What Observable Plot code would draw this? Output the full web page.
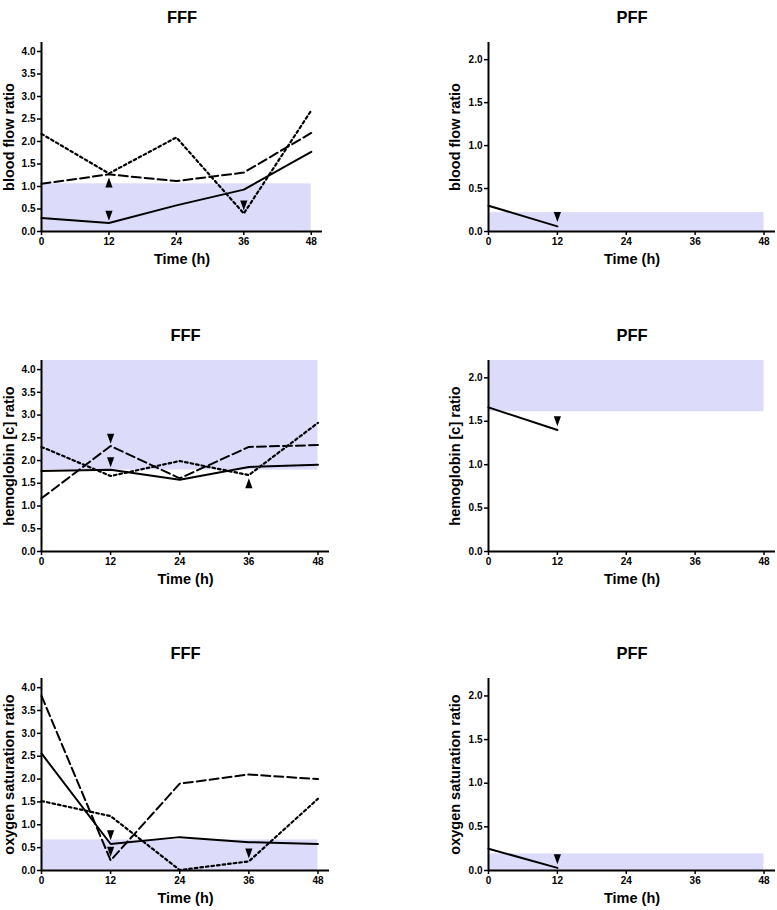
<!DOCTYPE html>
<html>
<head>
<meta charset="utf-8">
<script src="https://cdn.jsdelivr.net/npm/d3@7"></script>
<script src="https://cdn.jsdelivr.net/npm/@observablehq/plot@0.6"></script>
<style>
  html, body { margin: 0; padding: 0; background: #fff; }
  #wrap { position: relative; width: 777px; height: 910px; overflow: hidden; }
  .panel { position: absolute; }
</style>
</head>
<body>
<div id="wrap"></div>
<script>
// ---------- data ----------
const times = [0, 12, 24, 36, 48];
const pffTimes = [0, 12];
const xTicks = [0, 12, 24, 36, 48];
const fffYTicks = [0, 0.5, 1, 1.5, 2, 2.5, 3, 3.5, 4];
const pffYTicks = [0, 0.5, 1, 1.5, 2];

// blood flow ratio
const bloodFFF_solid = [0.30, 0.19, 0.58, 0.93, 1.77];
const bloodFFF_longDash = [1.06, 1.27, 1.12, 1.31, 2.19];
const bloodFFF_shortDash = [2.17, 1.29, 2.09, 0.40, 2.69];
const bloodPFF = [0.30, 0.06];
const bloodFFF_band = [0, 1.06];
const bloodPFF_band = [0, 0.22];
const bloodFFF_marks = [[12, 1.09, "up"], [12, 0.35, "down"], [36, 0.58, "down"]];
const bloodPFF_marks = [[12, 0.17, "down"]];

// hemoglobin [c] ratio
const hbFFF_solid = [1.77, 1.80, 1.58, 1.86, 1.91];
const hbFFF_longDash = [1.17, 2.32, 1.61, 2.30, 2.34];
const hbFFF_shortDash = [2.30, 1.66, 1.99, 1.68, 2.83];
const hbPFF = [1.66, 1.40];
const hbFFF_band = [1.79, 4.2];
const hbPFF_band = [1.61, 2.2];
const hbFFF_marks = [[12, 2.48, "down"], [12, 1.96, "down"], [36, 1.50, "up"]];
const hbPFF_marks = [[12, 1.50, "down"]];

// oxygen saturation ratio
const o2FFF_solid = [2.56, 0.58, 0.73, 0.62, 0.58];
const o2FFF_longDash = [3.82, 0.22, 1.90, 2.10, 2.00];
const o2FFF_shortDash = [1.52, 1.19, 0.01, 0.20, 1.57];
const o2PFF = [0.25, 0.03];
const o2FFF_band = [0, 0.67];
const o2PFF_band = [0, 0.19];
const o2FFF_marks = [[12, 0.77, "down"], [12, 0.41, "down"], [36, 0.37, "down"]];
const o2PFF_marks = [[12, 0.13, "down"]];

// ---------- helpers ----------
const FONT = "'Liberation Sans', Arial, Helvetica, sans-serif";
const upTri = {draw(ctx) { ctx.moveTo(0, -5); ctx.lineTo(3.6, 5); ctx.lineTo(-3.6, 5); ctx.closePath(); }};
const downTri = {draw(ctx) { ctx.moveTo(0, 5); ctx.lineTo(3.6, -5); ctx.lineTo(-3.6, -5); ctx.closePath(); }};
const toRows = (ts, vs) => ts.map((t, i) => ({t, v: vs[i]}));

function panel({title, ylabel, series, band, marks, yMax, yTicks, left, top, width, mLeft, mRight, plotH, labelDx}) {
  const mTop = 42, mBottom = 40;
  const lines = series.map(([ts, vs, dash, sw]) =>
    Plot.line(toRows(ts, vs), {x: "t", y: "v", stroke: "black", strokeWidth: sw, strokeDasharray: dash, strokeLinejoin: "miter"}));
  const markRows = marks.map(([t, v, dir]) => ({t, v, dir}));
  const chart = Plot.plot({
    width, height: mTop + plotH + mBottom,
    marginLeft: mLeft, marginRight: mRight, marginTop: mTop, marginBottom: mBottom,
    style: {fontFamily: FONT, fontSize: "10px", fontWeight: "bold", color: "black", background: "white", overflow: "visible"},
    x: {domain: [0, 50]},
    y: {domain: [0, yMax]},
    marks: [
      Plot.rect([{x1: 0, x2: 48, y1: band[0], y2: band[1]}], {x1: "x1", x2: "x2", y1: "y1", y2: "y2", fill: "#dcdcfa"}),
      ...lines,
      Plot.dot(markRows.filter(d => d.dir === "up"), {x: "t", y: "v", symbol: upTri, fill: "black", stroke: "none"}),
      Plot.dot(markRows.filter(d => d.dir === "down"), {x: "t", y: "v", symbol: downTri, fill: "black", stroke: "none"}),
      Plot.ruleX([0], {y1: 0, y2: yMax, stroke: "black", strokeWidth: 2}),
      Plot.ruleY([0], {x1: 0, x2: 50, stroke: "black", strokeWidth: 2}),
      Plot.axisX(xTicks, {tickSize: 4, tickPadding: 2, strokeWidth: 1.5, label: null, tickFormat: d => String(d)}),
      Plot.axisY(yTicks, {tickSize: 4, tickPadding: 2, strokeWidth: 1.5, label: null, tickFormat: d3.format(".1f")}),
      Plot.text([title], {frameAnchor: "top", dy: -31, fontSize: 16.5, fontWeight: "bold", fill: "black"}),
      Plot.text(["Time (h)"], {frameAnchor: "bottom", dy: 32, fontSize: 14.5, fontWeight: "bold", fill: "black"}),
      Plot.text([ylabel], {frameAnchor: "left", dx: labelDx, rotate: -90, textAnchor: "middle", fontSize: 14.5, fontWeight: "bold", fill: "black"})
    ]
  });
  const div = document.createElement("div");
  div.className = "panel";
  div.style.left = left + "px";
  div.style.top = top + "px";
  div.appendChild(chart);
  document.getElementById("wrap").appendChild(div);
}

const SHORT = "2.6,3", LONG = "9,4";
const rows = [
  {top: 0, plotH: 189, ylabel: "blood flow ratio",
   fff: [[times, bloodFFF_solid, null, 2], [times, bloodFFF_longDash, LONG, 2], [times, bloodFFF_shortDash, SHORT, 2.2]],
   fffBand: bloodFFF_band, fffMarks: bloodFFF_marks,
   pff: [[pffTimes, bloodPFF, null, 2]], pffBand: bloodPFF_band, pffMarks: bloodPFF_marks, leftRange: 281},
  {top: 318, plotH: 191, ylabel: "hemoglobin [c] ratio",
   fff: [[times, hbFFF_solid, null, 2], [times, hbFFF_longDash, LONG, 2], [times, hbFFF_shortDash, SHORT, 2.2]],
   fffBand: hbFFF_band, fffMarks: hbFFF_marks,
   pff: [[pffTimes, hbPFF, null, 2]], pffBand: hbPFF_band, pffMarks: hbPFF_marks, leftRange: 288},
  {top: 636, plotH: 192, ylabel: "oxygen saturation ratio",
   fff: [[times, o2FFF_solid, null, 2], [times, o2FFF_longDash, LONG, 2], [times, o2FFF_shortDash, SHORT, 2.2]],
   fffBand: o2FFF_band, fffMarks: o2FFF_marks,
   pff: [[pffTimes, o2PFF, null, 2]], pffBand: o2PFF_band, pffMarks: o2PFF_marks, leftRange: 288}
];

for (const r of rows) {
  panel({title: "FFF", ylabel: r.ylabel, series: r.fff, band: r.fffBand, marks: r.fffMarks,
         yMax: 4.2, yTicks: fffYTicks, left: 0, top: r.top, width: 345, mLeft: 41, mRight: 345 - 41 - r.leftRange,
         plotH: r.plotH, labelDx: -32});
  panel({title: "PFF", ylabel: r.ylabel, series: r.pff, band: r.pffBand, marks: r.pffMarks,
         yMax: 2.2, yTicks: pffYTicks, left: 440, top: r.top, width: 337, mLeft: 48, mRight: 2,
         plotH: r.plotH, labelDx: -33});
}
</script>
</body>
</html>
